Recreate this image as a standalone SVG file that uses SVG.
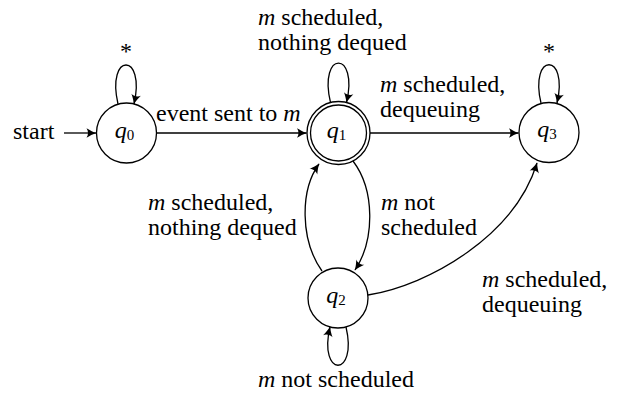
<svg xmlns="http://www.w3.org/2000/svg" width="618" height="394" viewBox="0 0 618 394">
<defs>
<style>
.st{fill:#fff;stroke:#000;stroke-width:1.3}
.ed{fill:none;stroke:#000;stroke-width:1.3;marker-end:url(#ah)}
.mi{font-style:italic}
.sub{font-size:15px;font-style:normal}
</style>
<marker id="ah" markerWidth="12" markerHeight="12" viewBox="-11 -6 12 12" refX="0" refY="0" orient="auto" markerUnits="userSpaceOnUse">
<path d="M0.5,0 C-3,-1 -6.5,-3 -9.5,-4.8 C-7.5,-2 -7.5,2 -9.5,4.8 C-6.5,3 -3,1 0.5,0 Z" fill="#000"/>
</marker>
</defs>
<rect width="618" height="394" fill="#fff"/>
<g id="connectors">
<path class="ed" d="M64,133 L96,133"/>
<path class="ed" d="M157,133 L306.5,133"/>
<path class="ed" d="M370,133 L518.5,133"/>
<path class="ed" d="M118,104 C106,52 146,52 134,104"/>
<path class="ed" d="M330.5,102.5 C318,50 359,50 346.5,102.5"/>
<path class="ed" d="M541,103 C529,52 569,52 557,103"/>
<path class="ed" d="M353,161 C375,190 375,240 355,270"/>
<path class="ed" d="M322,271 C300,240 300,190 319,164"/>
<path class="ed" d="M368,295 C430,285 515,235 537,163"/>
<path class="ed" d="M346,327 C358,378 318,378 330,327"/>
</g>
<g font-family="'Liberation Serif', 'Times New Roman', Times, serif" font-size="24" fill="#000">
<g id="q0">
<circle class="st" cx="126.5" cy="133" r="30"/>
<text x="124.5" y="137.5" text-anchor="middle"><tspan class="mi">q</tspan><tspan class="sub" dy="2">0</tspan></text>
</g>
<g id="q1">
<circle class="st" cx="338.5" cy="133" r="31.5"/>
<circle class="st" cx="338.5" cy="133" r="28"/>
<text x="336.5" y="137.5" text-anchor="middle"><tspan class="mi">q</tspan><tspan class="sub" dy="2">1</tspan></text>
</g>
<g id="q2">
<circle class="st" cx="338" cy="298" r="30"/>
<text x="336" y="302.5" text-anchor="middle"><tspan class="mi">q</tspan><tspan class="sub" dy="2">2</tspan></text>
</g>
<g id="q3">
<circle class="st" cx="549" cy="132.5" r="30"/>
<text x="547" y="137" text-anchor="middle"><tspan class="mi">q</tspan><tspan class="sub" dy="2">3</tspan></text>
</g>
<g id="labels">
<text x="13" y="139">start</text>
<text x="126" y="59" text-anchor="middle">*</text>
<text x="549" y="59" text-anchor="middle">*</text>
<text x="156" y="121">event sent to <tspan class="mi">m</tspan></text>
<text x="258" y="25"><tspan class="mi">m</tspan> scheduled,</text>
<text x="258" y="50">nothing dequed</text>
<text x="380" y="92"><tspan class="mi">m</tspan> scheduled,</text>
<text x="380" y="117">dequeuing</text>
<text x="148" y="210"><tspan class="mi">m</tspan> scheduled,</text>
<text x="148" y="235">nothing dequed</text>
<text x="381" y="210"><tspan class="mi">m</tspan> not</text>
<text x="381" y="235">scheduled</text>
<text x="482" y="287"><tspan class="mi">m</tspan> scheduled,</text>
<text x="482" y="312">dequeuing</text>
<text x="258" y="387"><tspan class="mi">m</tspan> not scheduled</text>
</g>
</g>
</svg>
